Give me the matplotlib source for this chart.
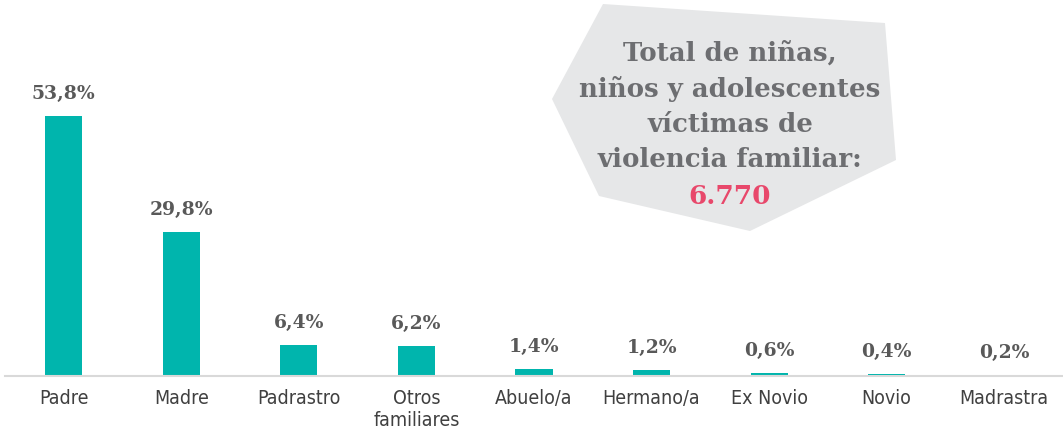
import matplotlib.pyplot as plt
from matplotlib.patches import Polygon

categories = ["Padre", "Madre", "Padrastro", "Otros\nfamiliares", "Abuelo/a",
              "Hermano/a", "Ex Novio", "Novio", "Madrastra"]
values = [53.8, 29.8, 6.4, 6.2, 1.4, 1.2, 0.6, 0.4, 0.2]
labels = ["53,8%", "29,8%", "6,4%", "6,2%", "1,4%", "1,2%", "0,6%", "0,4%", "0,2%"]
total_text = "Total de niñas,\nniños y adolescentes\nvíctimas de\nviolencia familiar:"
total_value = "6.770"

W, H = 1063, 433
fig = plt.figure(figsize=(W / 100, H / 100), dpi=100)
ax = fig.add_axes([5 / W, (H - 376) / H, 1058 / W, 376 / H])

x = range(len(categories))
ax.bar(x, values, width=0.315, color="#00B5AD", zorder=2)
ax.set_xlim(-0.5, len(categories) - 0.5)
ax.set_ylim(0, 77.8)

for xi, v, lab in zip(x, values, labels):
    ax.annotate(lab, (xi, v), xytext=(0, 16), textcoords="offset points",
                ha="center", va="center", fontsize=13.5, fontweight="bold",
                family="DejaVu Serif", color="#595959")

for s in ["top", "right", "left"]:
    ax.spines[s].set_visible(False)
ax.spines["bottom"].set_color("#D9D9D9")
ax.spines["bottom"].set_linewidth(1.5)
ax.set_yticks([])
ax.set_xticks(list(x))
ax.set_xticklabels(categories, fontsize=14, color="#404040",
                   family="DejaVu Sans", fontstretch="condensed",
                   linespacing=1.2, va="top")
ax.tick_params(axis="x", length=0, pad=9)

# callout box (figure pixel coords, origin top-left)
pts = [(603, 4), (885, 23), (896, 160), (750, 231), (599, 196), (552, 99)]
poly = Polygon([(px / W, 1 - py / H) for px, py in pts], closed=True,
               transform=fig.transFigure, facecolor="#E6E7E8", edgecolor="none",
               zorder=0)
fig.patches.append(poly)
fig.text(730 / W, 1 - 106 / H, total_text, ha="center", va="center",
         fontsize=18.7, fontweight="bold", family="DejaVu Serif",
         color="#6D6E71", linespacing=1.5)
fig.text(730 / W, 1 - 196 / H, total_value, ha="center", va="center",
         fontsize=19, fontweight="bold", family="DejaVu Serif", color="#E8486B")

fig.savefig("out.png", dpi=100)
